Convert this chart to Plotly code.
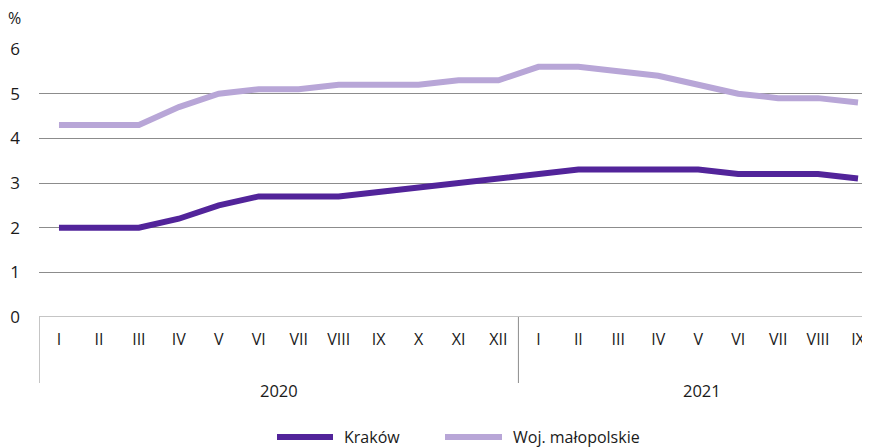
import plotly.graph_objects as go

months = ["I","II","III","IV","V","VI","VII","VIII","IX","X","XI","XII",
          "I","II","III","IV","V","VI","VII","VIII","IX"]
years = ["2020", "2021"]
krakow = [2.0,2.0,2.0,2.2,2.5,2.7,2.7,2.7,2.8,2.9,3.0,3.1,
          3.2,3.3,3.3,3.3,3.3,3.2,3.2,3.2,3.1]
woj = [4.3,4.3,4.3,4.7,5.0,5.1,5.1,5.2,5.2,5.2,5.3,5.3,
       5.6,5.6,5.5,5.4,5.2,5.0,4.9,4.9,4.8]
y_ticks = [0,1,2,3,4,5,6]
series_names = ["Kraków", "Woj. małopolskie"]
colors = ["#52249a", "#b8a6d7"]

x = list(range(len(months)))
FONT = "Open Sans"
TXT = "#1a1a1a"

OFF = 8  # page body margin
FW, FH = 870 - OFF, 447 - OFF
# screen-pixel geometry of the plot area
SL, ST, SB, SR = 39, 49, 317, 870
PW = SR - SL
H = SB - ST

fig = go.Figure()
for name, vals, c in zip(series_names, [krakow, woj], colors):
    fig.add_trace(go.Scatter(x=x, y=vals, mode="lines", name=name,
                             line=dict(color=c, width=6)))

fig.update_layout(
    width=FW, height=FH,
    margin=dict(l=SL - OFF, r=0, t=ST - OFF, b=FH - (SB - OFF), autoexpand=False),
    plot_bgcolor="white", paper_bgcolor="white",
    font=dict(family=FONT, size=16, color=TXT),
    showlegend=False,
    xaxis=dict(range=[-0.5, 20.3], tickvals=x, ticktext=months,
               showgrid=False, zeroline=False, showline=False,
               ticks="", ticklabelstandoff=11, automargin=False,
               tickfont=dict(size=16, color=TXT), fixedrange=True),
    yaxis=dict(range=[0, 6], tickvals=y_ticks, showgrid=True,
               gridcolor="#8c8c8c", gridwidth=1, zeroline=False,
               showline=False, ticks="", ticklabelstandoff=18, automargin=False,
               tickfont=dict(size=17, color=TXT), fixedrange=True),
)

def px_x(p):
    return (p - SL) / PW

def px_y(p):
    return (SB - p) / H

# zero baseline
fig.add_shape(type="line", xref="paper", yref="y", x0=0, x1=1, y0=0, y1=0,
              line=dict(color="#8c8c8c", width=1.2))
# group dividers
for xv in [-0.5, 11.5]:
    fig.add_shape(type="line", xref="x", yref="paper", x0=xv, x1=xv,
                  y0=0, y1=px_y(383), line=dict(color="#8c8c8c", width=1))

# year labels
year_centers = [5.5, 16.1]
for yr, xc in zip(years, year_centers):
    fig.add_annotation(text=yr, x=xc, xref="x", y=px_y(390), yref="paper",
                       showarrow=False, font=dict(size=16.5, color=TXT),
                       xanchor="center", yanchor="middle")

fig.add_annotation(text="%", x=px_x(14), xref="paper", y=px_y(18), yref="paper",
                   showarrow=False, font=dict(size=16, color=TXT),
                   xanchor="center", yanchor="middle")

# legend (manual, to match sample length and spacing)
ly = px_y(437)
leg_x = [(277, 333, 342), (445, 502, 511)]
for (x0, x1, tx), name, c in zip(leg_x, series_names, colors):
    fig.add_shape(type="line", xref="paper", yref="paper",
                  x0=px_x(x0), x1=px_x(x1), y0=ly, y1=ly,
                  line=dict(color=c, width=6))
    fig.add_annotation(text=name, x=px_x(tx), xref="paper", y=ly, yref="paper",
                       showarrow=False, xanchor="left", yanchor="middle",
                       font=dict(size=16, color=TXT))

fig.write_html("out.html")
